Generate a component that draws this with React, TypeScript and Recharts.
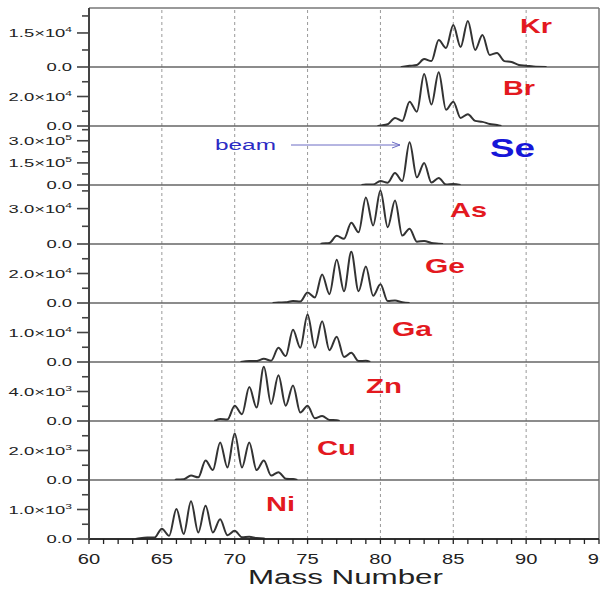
import React from 'react';
import { LineChart, Line, XAxis, YAxis, ReferenceLine } from 'recharts';

// ---- data (mass number, counts) ----
const KR: [number, number][] = [
  [81.4, 0], [82, 500], [82.5, 900], [83, 3500], [83.5, 2600], [84, 11900], [84.5, 8400],
  [85, 18500], [85.5, 8800], [86, 20300], [86.5, 7500], [87, 14100], [87.5, 5300],
  [88, 6200], [88.5, 2600], [89, 2200], [89.5, 900], [90, 600], [90.5, 200], [91.4, 0],
];
const BR: [number, number][] = [
  [79.8, 0], [80, 300], [80.5, 1200], [81, 5500], [81.5, 3400], [82, 16500], [82.5, 9700],
  [83, 35200], [83.5, 14500], [84, 36500], [84.5, 11000], [85, 16500], [85.5, 5500],
  [86, 8000], [86.5, 3500], [87, 2800], [87.5, 1400], [88, 700], [88.3, 0],
];
const SE: [number, number][] = [
  [78.7, 0], [79, 3000], [79.5, 3500], [80, 27000], [80.5, 16000], [81, 82000], [81.5, 27000],
  [82, 290000], [82.5, 52000], [83, 150000], [83.5, 17000], [84, 48000], [84.5, 3000],
  [85, 7000], [85.5, 0],
];
const AS: [number, number][] = [
  [75.9, 0], [76, 500], [76.5, 900], [77, 6900], [77.5, 4500], [78, 18000], [78.5, 9900],
  [79, 39400], [79.5, 15700], [80, 45400], [80.5, 14200], [81, 36900], [81.5, 7100],
  [82, 12900], [82.5, 2000], [83, 2600], [83.5, 900], [84, 300], [84.3, 0],
];
const GE: [number, number][] = [
  [72.6, 0], [73, 300], [73.5, 500], [74, 1300], [74.5, 1000], [75, 7100], [75.5, 3800],
  [76, 19300], [76.5, 6000], [77, 29300], [77.5, 8000], [78, 34700], [78.5, 8000],
  [79, 24700], [79.5, 4900], [80, 12700], [80.5, 1300], [81, 1700], [81.5, 500], [82, 0],
];
const GA: [number, number][] = [
  [70.4, 0], [71, 300], [71.5, 300], [72, 1100], [72.5, 450], [73, 4800], [73.5, 2000],
  [74, 10900], [74.5, 4800], [75, 16100], [75.5, 4800], [76, 13800], [76.5, 4000],
  [77, 8600], [77.5, 1700], [78, 3100], [78.5, 350], [79, 400], [79.3, 0],
];
const ZN: [number, number][] = [
  [68.6, 0], [69, 280], [69.5, 200], [70, 2070], [70.5, 920], [71, 4600], [71.5, 1840],
  [72, 7360], [72.5, 2300], [73, 6200], [73.5, 2070], [74, 4830], [74.5, 1150],
  [75, 2070], [75.5, 370], [76, 690], [76.5, 150], [77, 100], [77.2, 0],
];
const CU: [number, number][] = [
  [65.9, 0], [66, 30], [66.5, 50], [67, 300], [67.5, 180], [68, 1330], [68.5, 670],
  [69, 2550], [69.5, 850], [70, 3150], [70.5, 850], [71, 2550], [71.5, 670],
  [72, 1330], [72.5, 300], [73, 530], [73.5, 90], [74, 60], [74.3, 0],
];
const NI: [number, number][] = [
  [63.2, 0], [63.5, 30], [64, 55], [64.5, 50], [65, 350], [65.5, 110], [66, 1020], [66.5, 170],
  [67, 1280], [67.5, 220], [68, 1130], [68.5, 220], [69, 670], [69.5, 130], [70, 280],
  [70.5, 60], [71, 80], [71.5, 30], [72, 20], [72.1, 0],
];

const ELEMENTS = ['Kr', 'Br', 'Se', 'As', 'Ge', 'Ga', 'Zn', 'Cu', 'Ni'];
const SERIES = [KR, BR, SE, AS, GE, GA, ZN, CU, NI];
const Y_MAX = [26000, 40000, 400000, 50000, 40000, 20000, 8000, 4000, 2000];
const Y_MAJOR = [
  [0, 15000], [0, 20000], [0, 150000, 300000], [0, 30000], [0, 20000],
  [0, 10000], [0, 4000], [0, 2000], [0, 1000],
];
const Y_MINOR = [
  [7500, 22500], [10000, 30000], [75000, 225000, 375000], [15000, 45000], [10000, 30000],
  [5000, 15000], [2000, 6000], [1000, 3000], [500, 1500],
];
const MASS_TICKS = [60, 61, 62, 63, 64, 65, 66, 67, 68, 69, 70, 71, 72, 73, 74, 75, 76, 77, 78, 79,
  80, 81, 82, 83, 84, 85, 86, 87, 88, 89, 90, 91, 92, 93, 94, 95];
const MASS_LABELS = [60, 65, 70, 75, 80, 85, 90, 95];
const GRID_MASSES = [65, 70, 75, 80, 85, 90];

// ---- layout / style ----
const FONT = '"Liberation Sans", Arial, Helvetica, sans-serif';
const AXIS_X = 89;
const PANEL_TOP = 8;
const PANEL_H = 59;
const PAD = 10;
const X_AXIS_H = 51;
const LABELS = [
  { x: 520, y: 33, w: 32, size: 21, color: '#e3191f' },
  { x: 503, y: 95, w: 32, size: 21, color: '#e3191f' },
  { x: 490, y: 157, w: 45, size: 26, color: '#1616d8' },
  { x: 450, y: 217, w: 37, size: 21, color: '#e3191f' },
  { x: 425, y: 273, w: 40, size: 21, color: '#e3191f' },
  { x: 392, y: 336, w: 40, size: 21, color: '#e3191f' },
  { x: 366, y: 393, w: 36, size: 21, color: '#e3191f' },
  { x: 317, y: 455, w: 39, size: 21, color: '#e3191f' },
  { x: 266, y: 511, w: 29, size: 21, color: '#e3191f' },
];

function formatSci(v: number) {
  if (v === 0) return { m: '0.0', e: '' };
  const e = Math.floor(Math.log10(v));
  const m = (v / Math.pow(10, e)).toFixed(1);
  return { m: `${m}\u00d710`, e: String(e) };
}

function makeYTick(majors: number[]) {
  return (props: any) => {
    const { y, payload } = props;
    const v = payload.value as number;
    const major = majors.includes(v);
    const f = formatSci(v);
    return (
      <g>
        <line x1={AXIS_X - (major ? 12 : 7)} x2={AXIS_X} y1={y} y2={y} stroke="#444" strokeWidth={1.6} />
        {major && (
          <text
            transform={`translate(${AXIS_X - 17},${y + 4}) scale(1.6,1)`}
            textAnchor="end"
            fontSize={11.5}
            fontFamily={FONT}
            fill="#222"
          >
            {f.m}
            {f.e && (
              <tspan dy={-5} fontSize={7.5}>
                {f.e}
              </tspan>
            )}
          </text>
        )}
      </g>
    );
  };
}

const XTick = (props: any) => {
  const { x, payload } = props;
  const v = payload.value as number;
  const labeled = MASS_LABELS.includes(v);
  const base = PAD + PANEL_H;
  return (
    <g>
      <line x1={x} x2={x} y1={base} y2={base + 5} stroke="#222" strokeWidth={1.3} />
      {labeled && (
        <text
          transform={`translate(${x},${base + 25}) scale(1.3,1)`}
          textAnchor="middle"
          fontSize={15.5}
          fontFamily={FONT}
          fill="#222"
        >
          {v}
        </text>
      )}
    </g>
  );
};

function Panel({ idx }: { idx: number }) {
  const last = idx === SERIES.length - 1;
  const data = SERIES[idx].map(([m, v]) => ({ m, v }));
  const ticks = [...Y_MAJOR[idx], ...Y_MINOR[idx]].sort((a, b) => a - b);
  return (
    <LineChart
      width={600}
      height={PANEL_H + 2 * PAD + (last ? X_AXIS_H : 0)}
      data={data}
      margin={{ top: PAD, right: 1, bottom: last ? 0 : PAD, left: 0 }}
      style={{ position: 'absolute', left: 0, top: PANEL_TOP + PANEL_H * idx - PAD }}
    >
      <XAxis
        type="number"
        dataKey="m"
        domain={[60, 95]}
        ticks={MASS_TICKS}
        interval={0}
        allowDataOverflow
        hide={!last}
        height={last ? X_AXIS_H + PAD : 0}
        tickLine={false}
        axisLine={{ stroke: '#222', strokeWidth: 1.6 }}
        tick={XTick}
      />
      <YAxis
        type="number"
        domain={[0, Y_MAX[idx]]}
        ticks={ticks}
        interval={0}
        allowDataOverflow
        width={AXIS_X}
        tickLine={false}
        axisLine={{ stroke: '#444', strokeWidth: 2 }}
        tick={makeYTick(Y_MAJOR[idx])}
      />
      {GRID_MASSES.map((g) => (
        <ReferenceLine key={g} x={g} stroke="#999" strokeDasharray="3 3" strokeWidth={1} />
      ))}
      <ReferenceLine x={95} stroke="#777" strokeWidth={1.5} />
      {idx === 0 && <ReferenceLine y={Y_MAX[idx]} stroke="#777" strokeWidth={1.5} />}
      <ReferenceLine y={0} stroke={last ? '#222' : '#666'} strokeWidth={1.5} />
      <Line
        type="monotone"
        dataKey="v"
        stroke="#333"
        strokeWidth={2}
        dot={false}
        isAnimationActive={false}
      />
    </LineChart>
  );
}

export default function App() {
  return (
    <div
      style={{
        position: 'absolute',
        left: 0,
        top: 0,
        width: 600,
        height: 590,
        background: '#fff',
        overflow: 'hidden',
        fontFamily: FONT,
      }}
    >
      {SERIES.map((_, i) => (
        <Panel key={ELEMENTS[i]} idx={i} />
      ))}
      <svg
        width={600}
        height={590}
        style={{ position: 'absolute', left: 0, top: 0, pointerEvents: 'none' }}
      >
        {ELEMENTS.map((el, i) => (
          <text
            key={el}
            x={LABELS[i].x}
            y={LABELS[i].y}
            textLength={LABELS[i].w}
            lengthAdjust="spacingAndGlyphs"
            fontSize={LABELS[i].size}
            fontWeight="bold"
            fontFamily={FONT}
            fill={LABELS[i].color}
          >
            {el}
          </text>
        ))}
        <text
          x={215}
          y={150}
          textLength={61}
          lengthAdjust="spacingAndGlyphs"
          fontSize={14}
          fontFamily={FONT}
          fill="#2c2cc4"
        >
          beam
        </text>
        <line x1={291} x2={400} y1={145} y2={145} stroke="#6c6cc4" strokeWidth={1} />
        <polyline points="392,142 400,145 392,148" fill="none" stroke="#6c6cc4" strokeWidth={1} />
        <text
          x={248}
          y={584}
          textLength={195}
          lengthAdjust="spacingAndGlyphs"
          fontSize={20}
          fontFamily={FONT}
          fill="#222"
        >
          Mass Number
        </text>
      </svg>
    </div>
  );
}
